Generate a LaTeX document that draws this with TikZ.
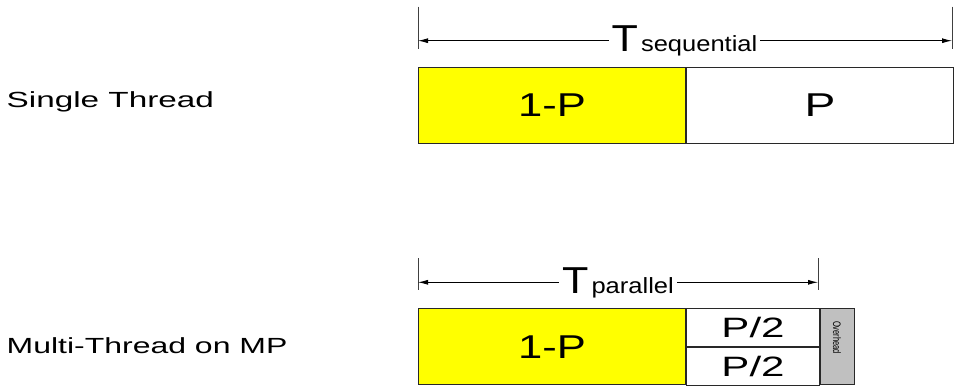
\documentclass[tikz,border=0pt]{standalone}
\usepackage{fontspec}
\setmainfont{Liberation Sans}
\usepackage{graphicx}
\usetikzlibrary{arrows.meta}
\newcommand{\fsz}[1]{\fontsize{#1}{#1}\selectfont}
\definecolor{ovgray}{RGB}{192,192,192}
\definecolor{barline}{RGB}{40,40,40}
\definecolor{pyellow}{RGB}{255,255,0}
\begin{document}
\begin{tikzpicture}[x=1pt,y=-1pt,
  bar/.style={draw=barline, line width=1pt, inner sep=0pt, anchor=north west},
  tickline/.style={draw=black!75, line width=0.9pt},
  dimarrow/.style={draw=black, line width=0.9pt, {Latex[length=10pt,width=5pt]}-{Latex[length=10pt,width=5pt]}},
  lbl/.style={inner sep=0pt, anchor=base west},
  dimlabel/.style={fill=white, inner xsep=3pt, inner ysep=0pt, anchor=base},
]
\useasboundingbox (0,0) rectangle (955,390);

% row labels
\node[lbl] (st) at (6.5,108) {\fsz{21.9}\scalebox{1.52}[1]{Single Thread}};
\node[lbl] (mt) at (6.5,353.3) {\fsz{21.9}\scalebox{1.46}[1]{Multi-Thread on MP}};

% single-thread bar
\node[bar, fill=pyellow, minimum width=267pt, minimum height=76pt] (s1) at (418,66.7) {\fsz{33}\scalebox{1.32}[1]{1-P}};
\node[bar, fill=white, minimum width=267pt, minimum height=76pt] (s2) at (s1.north east) {\fsz{33}\scalebox{1.4}[1]{P}};

% sequential dimension
\coordinate (tla) at (418,6.7);
\coordinate (tlb) at (418,49.3);
\coordinate (tra) at (952,6.7);
\coordinate (trb) at (952,49.3);
\coordinate (sal) at (418,40.7);
\coordinate (sar) at (952,40.7);
\draw[tickline] (tla) -- (tlb);
\draw[tickline] (tra) -- (trb);
\draw[dimarrow] (sal) -- (sar);
\node[dimlabel] (tseq) at (684.5,51.7) {\fsz{37.5}\scalebox{1.15}[1]{T}\hspace{3pt}\fsz{22}\scalebox{1.16}[1]{sequential}};

% multi-thread bar
\node[bar, fill=pyellow, minimum width=267pt, minimum height=76pt] (m1) at (418,308.3) {\fsz{33}\scalebox{1.32}[1]{1-P}};
\node[bar, fill=white, minimum width=133pt, minimum height=38pt] (m2) at (m1.north east) {\fsz{28}\scalebox{1.5}[1]{P/2}};
\node[bar, fill=white, minimum width=133pt, minimum height=38pt] (m3) at (m2.south west) {\fsz{28}\scalebox{1.5}[1]{P/2}};
\node[bar, fill=ovgray, minimum width=34pt, minimum height=76pt] (ov) at (m2.north east) {};
\node[inner sep=0pt] (ovt) at (837,337.5) {\rotatebox{-90}{\scalebox{1}[1.45]{\fsz{7.5}Overhead}}};

% parallel dimension
\coordinate (bla) at (418,258);
\coordinate (blb) at (418,290);
\coordinate (bra) at (818,258);
\coordinate (brb) at (818,290);
\coordinate (pal) at (418,282.3);
\coordinate (par) at (818,282.3);
\draw[tickline] (bla) -- (blb);
\draw[tickline] (bra) -- (brb);
\draw[dimarrow] (pal) -- (par);
\node[dimlabel] (tpar) at (618,293.3) {\fsz{37.5}\scalebox{1.15}[1]{T}\hspace{3pt}\fsz{22}\scalebox{1.16}[1]{parallel}};
\end{tikzpicture}
\end{document}
